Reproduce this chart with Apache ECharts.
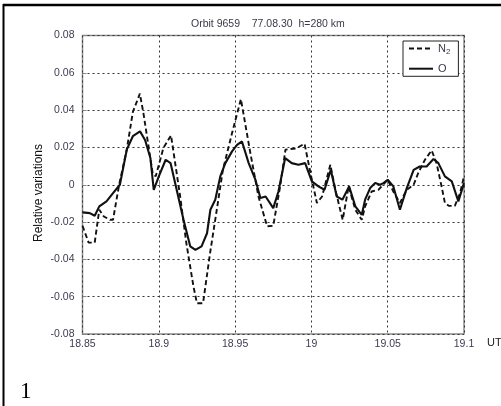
<!DOCTYPE html>
<html>
<head>
<meta charset="utf-8">
<script src="https://cdn.jsdelivr.net/npm/echarts@6/dist/echarts.min.js"></script>
<style>
html,body{margin:0;padding:0;background:#fff;}
#chart{width:501px;height:406px;}
</style>
</head>
<body>
<div id="chart"></div>
<script>
// ---- data ----
var titleText = 'Orbit 9659    77.08.30  h=280 km';
var yAxisTitle = 'Relative variations';
var xAxisTitle = 'UT';
var panelLabel = '1';
var seriesNames = ['N2', 'O'];

var xTickValues = [18.85, 18.9, 18.95, 19, 19.05, 19.1];
var xTickLabels = ['18.85', '18.9', '18.95', '19', '19.05', '19.1'];
var yTickValues = [-0.08, -0.06, -0.04, -0.02, 0, 0.02, 0.04, 0.06, 0.08];
var yTickLabels = ['-0.08', '-0.06', '-0.04', '-0.02', '0', '0.02', '0.04', '0.06', '0.08'];

var n2Times = [18.850, 18.854, 18.858, 18.861, 18.864, 18.868, 18.870, 18.874, 18.879, 18.883,
  18.8876, 18.890, 18.896, 18.898, 18.903, 18.908, 18.914, 18.918, 18.9227, 18.925,
  18.929, 18.9336, 18.938, 18.942, 18.948, 18.9538, 18.960, 18.9653, 18.971, 18.975,
  18.9795, 18.983, 18.990, 18.9955, 19.0003, 19.0036, 19.007, 19.0124, 19.0157, 19.0205,
  19.0244, 19.0288, 19.033, 19.0352, 19.0395, 19.0439, 19.050, 19.0537, 19.058, 19.0625,
  19.067, 19.070, 19.0744, 19.0788, 19.082, 19.0853, 19.0875, 19.090, 19.094, 19.0974, 19.100];
var n2Values = [-0.022, -0.031, -0.031, -0.0134, -0.017, -0.0188, -0.0188, 0.000, 0.0188, 0.039,
  0.0488, 0.038, 0.006, 0.0045, 0.0197, 0.0265, -0.0063, -0.031, -0.0545, -0.0635,
  -0.0635, -0.0366, -0.0134, 0.008, 0.0277, 0.0459, 0.017, -0.0063, -0.0223, -0.022,
  -0.001, 0.0188, 0.0195, 0.022, 0.0027, -0.0098, -0.0063, 0.0107, -0.0027, -0.0188,
  -0.0009, -0.0134, -0.0188, -0.0116, -0.0036, -0.0027, 0.0027, -0.0036, -0.0098, -0.0027,
  0.000, 0.0063, 0.0134, 0.0184, 0.0116, -0.0009, -0.0098, -0.0113, -0.0113, -0.0045, 0.0045];

var oTimes = [18.850, 18.8548, 18.858, 18.861, 18.8657, 18.870, 18.8745, 18.879, 18.883, 18.8877,
  18.891, 18.8945, 18.8967, 18.900, 18.9045, 18.9077, 18.9107, 18.9162, 18.9206, 18.924,
  18.928, 18.9316, 18.9338, 18.937, 18.9403, 18.9436, 18.948, 18.9513, 18.9545, 18.9589,
  18.9633, 18.9666, 18.970, 18.975, 18.9784, 18.9828, 18.9871, 18.9915, 18.9959, 19.0003,
  19.0046, 19.0086, 19.0127, 19.0166, 19.0203, 19.0247, 19.0288, 19.033, 19.0352, 19.0385,
  19.0418, 19.045, 19.0472, 19.050, 19.0537, 19.058, 19.0625, 19.067, 19.071, 19.0755,
  19.080, 19.0832, 19.0875, 19.092, 19.0963, 19.100];
var oValues = [-0.0148, -0.0152, -0.0166, -0.0116, -0.0089, -0.0045, 0.000, 0.0188, 0.026, 0.0286,
  0.024, 0.0143, -0.0027, 0.0045, 0.0134, 0.0116, 0.0009, -0.0188, -0.033, -0.0349,
  -0.033, -0.026, -0.0134, -0.008, 0.0045, 0.0116, 0.0179, 0.0214, 0.0232, 0.0116,
  0.0027, -0.0071, -0.0063, -0.0125, -0.0036, 0.0143, 0.0116, 0.0107, 0.0116, 0.0018,
  -0.0009, -0.0027, 0.008, -0.0063, -0.008, -0.0009, -0.0116, -0.0161, -0.008, -0.0018,
  0.0009, 0.000, 0.0009, 0.0027, -0.0009, -0.0134, -0.0018, 0.008, 0.0098, 0.0098,
  0.0138, 0.0116, 0.0045, 0.0018, -0.0089, 0.0009];

// ---- chart ----
function pairs(xs, ys) { return xs.map(function (x, i) { return [x, ys[i]]; }); }
function lookup(vals, labels, v) {
  for (var i = 0; i < vals.length; i++) { if (Math.abs(vals[i] - v) < 1e-6) return labels[i]; }
  return '';
}

var labelColor = '#3e3b52';
var chart = echarts.init(document.getElementById('chart'), null, { renderer: 'canvas' });
chart.setOption({
  animation: false,
  backgroundColor: '#fff',
  textStyle: { fontFamily: 'Liberation Sans, Arial, sans-serif' },
  title: {
    text: titleText, left: 191, top: 19, padding: 0,
    textStyle: { fontSize: 10.5, fontWeight: 'normal', color: '#3a3a48', fontFamily: 'Liberation Sans, Arial, sans-serif' }
  },
  grid: {
    left: 82.5, right: 37, top: 35.5, bottom: 72, containLabel: false,
    show: true, borderColor: '#8a8a8a', borderWidth: 1.5, backgroundColor: 'transparent'
  },
  legend: {
    orient: 'vertical', left: 403, top: 41,
    padding: [2, 8, 2, 5], itemGap: 7, itemWidth: 24, itemHeight: 14,
    backgroundColor: '#fff', borderColor: '#222', borderWidth: 1,
    itemStyle: { opacity: 0 },
    data: seriesNames,
    formatter: function (name) { return name === 'N2' ? '{n|N}{s|2}' : '{n|O}'; },
    textStyle: {
      color: '#333',
      rich: {
        n: { fontSize: 11, color: '#3a3a48' },
        s: { fontSize: 8, color: '#3a3a48', padding: [7, 0, 0, 0] }
      }
    }
  },
  xAxis: {
    type: 'value', min: 18.85, max: 19.1, interval: 0.05,
    axisLine: { show: false },
    axisTick: { show: true, inside: true, length: 4, lineStyle: { color: '#888' } },
    axisLabel: {
      fontSize: 10.5, color: labelColor, margin: 5,
      formatter: function (v) { return lookup(xTickValues, xTickLabels, v); }
    },
    splitLine: { show: true, lineStyle: { color: '#333', type: [2, 3], width: 1 } }
  },
  yAxis: {
    type: 'value', min: -0.08, max: 0.08, interval: 0.02,
    axisLine: { show: false },
    axisTick: { show: true, inside: true, length: 4, lineStyle: { color: '#888' } },
    axisLabel: {
      fontSize: 10.5, color: labelColor, margin: 8,
      formatter: function (v) { return lookup(yTickValues, yTickLabels, v); }
    },
    splitLine: { show: true, lineStyle: { color: '#333', type: [2, 3], width: 1 } }
  },
  series: [
    {
      name: 'N2', type: 'line', data: pairs(n2Times, n2Values),
      symbol: 'none', smooth: false,
      lineStyle: { color: '#111', width: 1.9, type: [5, 3] },
      itemStyle: { color: '#111' }, z: 3
    },
    {
      name: 'O', type: 'line', data: pairs(oTimes, oValues),
      symbol: 'none', smooth: false,
      lineStyle: { color: '#111', width: 2.1 },
      itemStyle: { color: '#111' }, z: 4
    }
  ],
  graphic: [
    { type: 'line', shape: { x1: 3, y1: 5, x2: 501, y2: 5 }, style: { stroke: '#000', lineWidth: 2.5 } },
    { type: 'line', shape: { x1: 3.5, y1: 4, x2: 3.5, y2: 406 }, style: { stroke: '#000', lineWidth: 2 } },
    { type: 'text', x: 39, y: 193, rotation: Math.PI / 2,
      style: { text: yAxisTitle, font: '12px "Liberation Sans", Arial, sans-serif', fill: '#111', align: 'center', verticalAlign: 'middle' } },
    { type: 'text', x: 487, y: 343,
      style: { text: xAxisTitle, font: '11px "Liberation Sans", Arial, sans-serif', fill: '#222', align: 'left', verticalAlign: 'middle' } },
    { type: 'text', x: 20, y: 392,
      style: { text: panelLabel, font: '23px "Liberation Serif", "Times New Roman", serif', fill: '#000', verticalAlign: 'middle', align: 'left' } }
  ]
});
</script>
</body>
</html>
